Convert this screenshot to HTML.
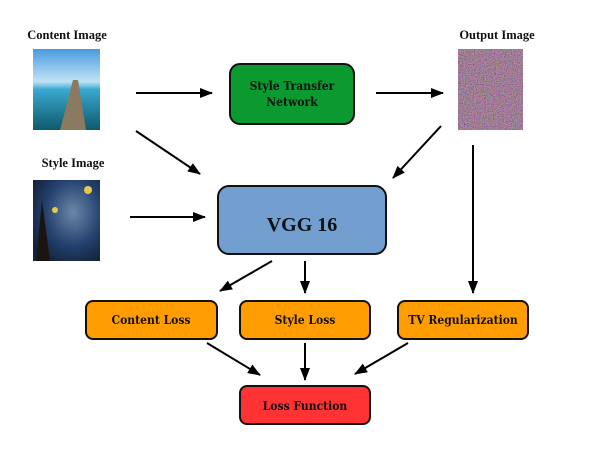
<!DOCTYPE html>
<html><head><meta charset="utf-8"><style>
body{margin:0;background:#fff;width:600px;height:450px;overflow:hidden}
</style></head><body>
<svg width="600" height="450" xmlns="http://www.w3.org/2000/svg" font-family="Liberation Serif, serif" font-weight="bold">
<defs>
<marker id="a" markerWidth="13" markerHeight="10" refX="12" refY="5" orient="auto" markerUnits="userSpaceOnUse"><path d="M0,0 L13,5 L0,10 z" fill="#000"/></marker>
<linearGradient id="sky" x1="0" y1="0" x2="0" y2="1"><stop offset="0" stop-color="#4a9be0"/><stop offset="0.4" stop-color="#bfe3f5"/><stop offset="0.5" stop-color="#3aa8d0"/><stop offset="1" stop-color="#0e5a6a"/></linearGradient>
<radialGradient id="star" cx="0.6" cy="0.4" r="0.7"><stop offset="0" stop-color="#6a88a8"/><stop offset="0.6" stop-color="#23406e"/><stop offset="1" stop-color="#142238"/></radialGradient>
<filter id="n" x="0" y="0" width="1" height="1" filterUnits="objectBoundingBox"><feTurbulence type="fractalNoise" baseFrequency="0.9" numOctaves="2" seed="3"/><feColorMatrix type="matrix" values="1.2 0 0 0 -0.1 0 1.1 0 0 -0.2 0 0 1.2 0 -0.1 0 0 0 0 1"/></filter>
</defs>
<g font-size="12.5" text-anchor="middle" fill="#111">
<text x="67" y="39">Content Image</text>
<text x="497" y="39">Output Image</text>
<text x="73" y="167">Style Image</text>
</g>
<rect x="33" y="49" width="67" height="81" fill="url(#sky)"/>
<polygon points="60,130 73,80 78,80 86,130" fill="#8a7a62"/>
<rect x="33" y="180" width="67" height="81" fill="url(#star)"/>
<polygon points="36,261 42,200 50,261" fill="#1b1410"/>
<circle cx="88" cy="190" r="4" fill="#e6c84a"/><circle cx="55" cy="210" r="3" fill="#e6c84a"/>
<rect x="458" y="49" width="65" height="81" filter="url(#n)"/>
<rect x="458" y="49" width="65" height="81" fill="#6a4050" opacity="0.35"/>
<g stroke="#000" stroke-width="2" marker-end="url(#a)">
<line x1="136" y1="93" x2="212" y2="93"/>
<line x1="376" y1="93" x2="443" y2="93"/>
<line x1="136" y1="131" x2="200" y2="174"/>
<line x1="441" y1="126" x2="393" y2="178"/>
<line x1="130" y1="217" x2="205" y2="217"/>
<line x1="272" y1="261" x2="220" y2="291"/>
<line x1="305" y1="261" x2="305" y2="293"/>
<line x1="473" y1="145" x2="473" y2="293"/>
<line x1="207" y1="343" x2="260" y2="375"/>
<line x1="305" y1="343" x2="305" y2="380"/>
<line x1="408" y1="343" x2="355" y2="374"/>
</g>
<g stroke="#111" stroke-width="2">
<rect x="230" y="64" width="124" height="60" rx="10" fill="#0a9a30"/>
<rect x="218" y="186" width="168" height="68" rx="11" fill="#729fcf"/>
<rect x="86" y="301" width="131" height="38" rx="7" fill="#ff9d00"/>
<rect x="240" y="301" width="130" height="38" rx="7" fill="#ff9d00"/>
<rect x="398" y="301" width="130" height="38" rx="7" fill="#ff9d00"/>
<rect x="240" y="386" width="130" height="38" rx="7" fill="#ff3333"/>
</g>
<g text-anchor="middle" fill="#111" font-size="12" font-family="DejaVu Serif Condensed, DejaVu Serif, serif">
<text x="292" y="90">Style Transfer</text>
<text x="292" y="106">Network</text>
<text x="302" y="231" font-size="20" font-family="Liberation Serif, serif">VGG 16</text>
<text x="151" y="324">Content Loss</text>
<text x="305" y="324">Style Loss</text>
<text x="463" y="324">TV Regularization</text>
<text x="305" y="410">Loss Function</text>
</g>
</svg>
</body></html>
